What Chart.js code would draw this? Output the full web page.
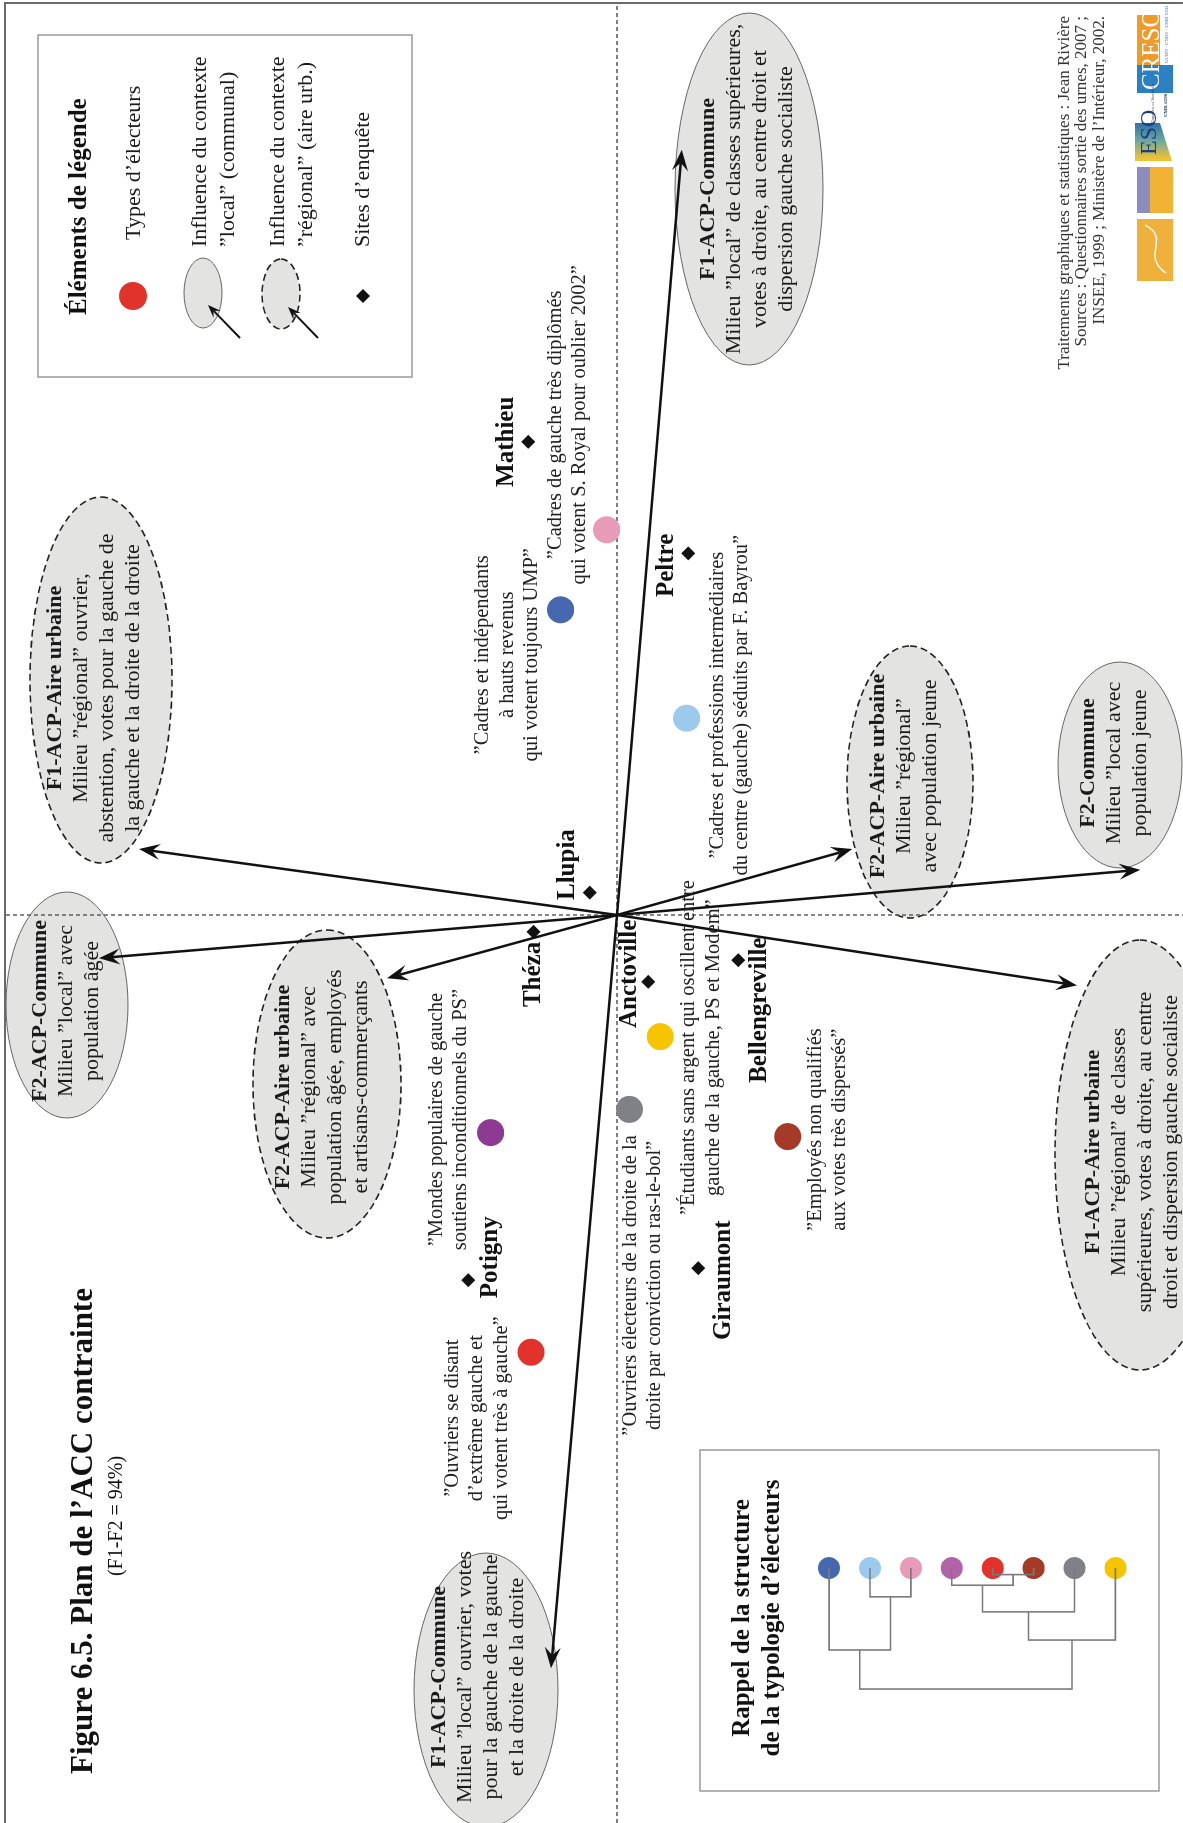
<!DOCTYPE html>
<html>
<head>
<meta charset="utf-8">
<title>Plan de l'ACC contrainte</title>
<script src="https://cdn.jsdelivr.net/npm/chart.js@4.4.0/dist/chart.umd.min.js"></script>
<style>
html, body { margin:0; padding:0; width:1183px; height:1823px; overflow:hidden; background:#fff; }
/* the figure is laid out landscape, then turned a quarter to the left like the printed page */
#rot { position:absolute; left:0; top:0; width:1823px; height:1183px; transform-origin:0 0; transform:translate(0px,1823px) rotate(-90deg); }
#plan { position:absolute; left:0; top:0; }
#dendro { position:absolute; left:31px; top:699px; }
</style>
</head>
<body>
<div id="rot">
  <canvas id="plan" width="1823" height="1183"></canvas>
  <canvas id="dendro" width="343" height="461"></canvas>
</div>
<script>
// ---- types d'électeurs (F1, F2)
var typeNames = ['Cadres et indépendants UMP', 'Cadres et prof. intermédiaires', 'Cadres de gauche très diplômés',
  'Mondes populaires de gauche', 'Ouvriers d’extrême gauche', 'Employés non qualifiés',
  'Ouvriers électeurs de droite', 'Étudiants sans argent'];
var typeF1 = [0.763, 0.492, 0.963, -0.544, -1.093, -0.554, -0.486, -0.304];
var typeF2 = [0.141, -0.174, 0.026, 0.316, 0.215, -0.427, -0.031, -0.108];
var typeColors = ['#4668b0', '#9ccaec', '#e89ab9', '#8d3a92', '#e1322c', '#a63a28', '#7f8186', '#f6c500'];
var typeText = [
  ['”Cadres et indépendants', 'à hauts revenus', 'qui votent toujours UMP”'],
  ['”Cadres et professions intermédiaires', 'du centre (gauche) séduits par F. Bayrou”'],
  ['”Cadres de gauche très diplômés', 'qui votent S. Royal pour oublier 2002”'],
  ['”Mondes populaires de gauche', 'soutiens inconditionnels du PS”'],
  ['”Ouvriers se disant', 'd’extrême gauche et', 'qui votent très à gauche”'],
  ['”Employés non qualifiés', 'aux votes très dispersés”'],
  ['”Ouvriers électeurs de la droite de la', 'droite par conviction ou ras-le-bol”'],
  ['”Étudiants sans argent qui oscillent entre', 'gauche de la gauche, PS et Modem”']
];

// ---- sites d'enquête (F1, F2)
var sites = ['Mathieu', 'Peltre', 'Llupia', 'Théza', 'Anctoville', 'Bellengreville', 'Potigny', 'Giraumont'];
var siteF1 = [1.183, 0.904, 0.056, -0.042, -0.167, -0.113, -0.913, -0.883];
var siteF2 = [0.222, -0.178, 0.068, 0.209, -0.078, -0.303, 0.372, -0.203];

// ---- variables de contexte (extrémités des flèches)
var ctxVars = ['F1-ACP-Commune +', 'F1-ACP-Aire urbaine -', 'F2-ACP-Commune -', 'F2-ACP-Aire urbaine -',
  'F1-ACP-Commune -', 'F2-ACP-Aire urbaine +', 'F2-Commune +', 'F1-ACP-Aire urbaine +'];
var varF1 = [1.913, 0.165, -0.108, -0.158, -1.883, 0.165, 0.113, -0.176];
var varF2 = [-0.162, 1.195, 1.295, 0.575, 0.165, -0.588, -1.308, -1.150];

// ---- dendrogramme (feuilles = types, même ordre)
var leafColors = ['#4668b0', '#9ccaec', '#e89ab9', '#b262a8', '#e1322c', '#a63a28', '#7f8186', '#f6c500'];
var merges = [[4, 5, 0.054], [3, 8, 0.142], [1, 2, 0.238], [9, 6, 0.362], [11, 7, 0.595], [0, 10, 0.677], [13, 12, 1.0]];

// ---- mise en page des étiquettes (pixels)
var typeLabelPos = [[-45, -53], [13, 43], [105, -39], [13, -42], [-66, -54], [7, 40], [-176, 13], [-11, 41]];
var siteLabelPos = [[0, -22, 'center'], [-12, -22, 'center'], [28, -22, 'center'], [-10, 0, 'right'],
  [8, -19, 'center'], [-50, 21, 'center'], [23, 22, 'center'], [-12, 25, 'center']];
var ellipses = [
  {cx: 1.815, cy: -0.33, rx: 176, ry: 74, dash: false, tx: 0, ty: -2, title: 'F1-ACP-Commune',
    lines: ['Milieu ”local” de classes supérieures,', 'votes à droite, au centre droit et', 'dispersion gauche socialiste']},
  {cx: 0.5875, cy: 1.29, rx: 183, ry: 71, dash: true, tx: -8, ty: -7, title: 'F1-ACP-Aire urbaine',
    lines: ['Milieu ”régional” ouvrier,', 'abstention, votes pour la gauche de', 'la gauche et la droite de la droite']},
  {cx: -0.225, cy: 1.375, rx: 113, ry: 61, dash: false, tx: -6, ty: -1, title: 'F2-ACP-Commune',
    lines: ['Milieu ”local” avec', 'population âgée']},
  {cx: -0.4225, cy: 0.725, rx: 154, ry: 74, dash: true, tx: -3, ty: -5, title: 'F2-ACP-Aire urbaine',
    lines: ['Milieu ”régional” avec', 'population âgée, employés', 'et artisans-commerçants']},
  {cx: -1.9375, cy: 0.3275, rx: 137, ry: 72, dash: false, tx: 13, ty: -8, title: 'F1-ACP-Commune',
    lines: ['Milieu ”local” ouvrier, votes', 'pour la gauche de la gauche', 'et la droite de la droite']},
  {cx: 0.3325, cy: -0.7325, rx: 136, ry: 63, dash: true, tx: 6, ty: -6, title: 'F2-ACP-Aire urbaine',
    lines: ['Milieu ”régional”', 'avec population jeune']},
  {cx: 0.375, cy: -1.2575, rx: 103, ry: 62, dash: false, tx: 2, ty: -6, title: 'F2-Commune',
    lines: ['Milieu ”local avec', 'population jeune']},
  {cx: -0.6, cy: -1.3075, rx: 215, ry: 85, dash: true, tx: 3, ty: -8, title: 'F1-ACP-Aire urbaine',
    lines: ['Milieu ”régional” de classes', 'supérieures, votes à droite, au centre', 'droit et dispersion gauche socialiste']}
];

var SERIF = '"Liberation Serif", "Times New Roman", serif';
var ELL_FILL = '#e3e3e1';

function textBlock(ctx, lines, x, y, lh, fonts, align) {
  ctx.textAlign = align || 'center';
  ctx.textBaseline = 'middle';
  var y0 = y - (lines.length - 1) * lh / 2;
  for (var i = 0; i < lines.length; i++) {
    ctx.font = typeof fonts === 'string' ? fonts : fonts[i];
    ctx.fillText(lines[i], x, y0 + i * lh);
  }
}

function arrowHead(ctx, x0, y0, x1, y1, L, W) {
  var a = Math.atan2(y1 - y0, x1 - x0), c = Math.cos(a), s = Math.sin(a);
  var nx = x1 - c * L * 0.62, ny = y1 - s * L * 0.62;
  ctx.beginPath();
  ctx.moveTo(x0, y0);
  ctx.lineTo(nx, ny);
  ctx.stroke();
  ctx.beginPath();
  ctx.moveTo(x1, y1);
  ctx.lineTo(x1 - c * L + s * W, y1 - s * L - c * W);
  ctx.lineTo(nx, ny);
  ctx.lineTo(x1 - c * L - s * W, y1 - s * L + c * W);
  ctx.closePath();
  ctx.fill();
}

function ellipse(ctx, x, y, rx, ry, dash) {
  ctx.save();
  ctx.beginPath();
  ctx.ellipse(x, y, rx, ry, 0, 0, Math.PI * 2);
  ctx.fillStyle = ELL_FILL;
  ctx.fill();
  if (dash) { ctx.setLineDash([7, 4]); ctx.strokeStyle = '#222'; ctx.lineWidth = 1.6; }
  else { ctx.strokeStyle = '#666'; ctx.lineWidth = 1; }
  ctx.stroke();
  ctx.restore();
}

var backLayer = {
  id: 'backLayer',
  beforeDatasetsDraw: function (chart) {
    var ctx = chart.ctx, X = chart.scales.x, Y = chart.scales.y;
    var ox = X.getPixelForValue(0), oy = Y.getPixelForValue(0);
    ctx.save();
    ctx.fillStyle = '#fff';
    ctx.fillRect(0, 0, chart.width, chart.height);
    // page frame
    ctx.strokeStyle = '#6a6a6a'; ctx.lineWidth = 2;
    ctx.beginPath(); ctx.moveTo(0, 5); ctx.lineTo(1820, 5); ctx.lineTo(1820, chart.height); ctx.stroke();
    // ellipses
    ellipses.forEach(function (e) {
      ellipse(ctx, X.getPixelForValue(e.cx), Y.getPixelForValue(e.cy), e.rx, e.ry, e.dash);
    });
    // axes F1 = 0 / F2 = 0
    ctx.setLineDash([4, 3]); ctx.strokeStyle = '#555'; ctx.lineWidth = 1.4;
    ctx.beginPath(); ctx.moveTo(ox, 6); ctx.lineTo(ox, chart.height); ctx.stroke();
    ctx.beginPath(); ctx.moveTo(0, oy); ctx.lineTo(1819, oy); ctx.stroke();
    ctx.setLineDash([]);
    // ellipse texts
    ctx.fillStyle = '#1a1a1a';
    ellipses.forEach(function (e) {
      var lines = [e.title].concat(e.lines);
      var fonts = lines.map(function (t, i) { return i === 0 ? 'bold 22px ' + SERIF : '22px ' + SERIF; });
      textBlock(ctx, lines, X.getPixelForValue(e.cx) + e.tx, Y.getPixelForValue(e.cy) + e.ty, 26, fonts);
    });
    // arrows from origin to variables
    ctx.strokeStyle = '#111'; ctx.fillStyle = '#111'; ctx.lineWidth = 2.5;
    for (var i = 0; i < varF1.length; i++) {
      arrowHead(ctx, ox, oy, X.getPixelForValue(varF1[i]), Y.getPixelForValue(varF2[i]), 21, 8);
    }
    ctx.restore();
  }
};

function drawLegend(ctx) {
  ctx.save();
  ctx.strokeStyle = '#9a9a9a'; ctx.lineWidth = 1.5;
  ctx.strokeRect(1446, 38, 342, 374);
  ctx.fillStyle = '#111';
  ctx.font = 'bold 25px ' + SERIF; ctx.textAlign = 'left'; ctx.textBaseline = 'middle';
  ctx.fillText('Éléments de légende', 1508, 80);
  ctx.beginPath(); ctx.arc(1527, 133, 14, 0, Math.PI * 2); ctx.fillStyle = typeColors[4]; ctx.fill();
  ellipse(ctx, 1530, 203, 35, 19, false);
  ellipse(ctx, 1529, 281, 35, 19, true);
  ctx.strokeStyle = '#111'; ctx.fillStyle = '#111'; ctx.lineWidth = 2;
  arrowHead(ctx, 1485, 240, 1518, 208, 13, 5);
  arrowHead(ctx, 1485, 318, 1516, 288, 13, 5);
  ctx.beginPath(); ctx.moveTo(1520, 363); ctx.lineTo(1527, 356); ctx.lineTo(1534, 363); ctx.lineTo(1527, 370); ctx.closePath(); ctx.fill();
  ctx.fillStyle = '#1a1a1a';
  textBlock(ctx, ['Types d’électeurs'], 1583, 134, 0, '22px ' + SERIF, 'left');
  textBlock(ctx, ['Influence du contexte', '”local” (communal)'], 1576, 214, 28, '22px ' + SERIF, 'left');
  textBlock(ctx, ['Influence du contexte', '”régional” (aire urb.)'], 1576, 292, 28, '22px ' + SERIF, 'left');
  textBlock(ctx, ['Sites d’enquête'], 1576, 363, 0, '22px ' + SERIF, 'left');
  ctx.restore();
}

function drawSources(ctx) {
  ctx.save();
  ctx.fillStyle = '#333';
  textBlock(ctx, ['Traitements graphiques et statistiques : Jean Rivière',
    'Sources : Questionnaires sortie des urnes, 2007 ;',
    'INSEE, 1999 ; Ministère de l’Intérieur, 2002.'], 1807, 1082, 17.5, '17px ' + SERIF, 'right');
  // logos
  ctx.fillStyle = '#f09a2a'; ctx.fillRect(1756, 1137, 52, 23);
  ctx.fillStyle = '#2c7fc3'; ctx.fillRect(1730, 1137, 28, 36);
  ctx.fillStyle = '#fff'; ctx.font = '25px ' + SERIF; ctx.textAlign = 'left'; ctx.textBaseline = 'middle';
  ctx.fillText('CRESO', 1733, 1152);
  ctx.fillStyle = '#2c7fc3'; ctx.font = '5px ' + SERIF; ctx.fillText('UCBN · CNRS · UMR ESO', 1760, 1167);
  var g = ctx.createLinearGradient(1664, 0, 1700, 0);
  g.addColorStop(0, '#f1c232'); g.addColorStop(0.5, '#6fa7a0'); g.addColorStop(1, '#2f6fa8');
  ctx.fillStyle = g;
  ctx.beginPath(); ctx.moveTo(1662, 1135); ctx.lineTo(1700, 1135); ctx.lineTo(1700, 1160); ctx.lineTo(1662, 1172); ctx.closePath(); ctx.fill();
  ctx.fillStyle = '#1d3d7a'; ctx.font = '24px ' + SERIF; ctx.fillText('ESO', 1668, 1150);
  ctx.font = '5px ' + SERIF; ctx.fillText('Espaces et Sociétés', 1700, 1153);
  ctx.font = 'bold 5px ' + SERIF; ctx.fillText('UMR 6590', 1706, 1166);
  ctx.fillStyle = '#8c8cbf'; ctx.fillRect(1610, 1137, 46, 13);
  ctx.fillStyle = '#f2b233';
  ctx.beginPath(); ctx.moveTo(1610, 1150); ctx.lineTo(1656, 1150); ctx.lineTo(1656, 1173); ctx.lineTo(1610, 1173); ctx.closePath(); ctx.fill();
  ctx.fillStyle = '#efb13b'; ctx.fillRect(1542, 1137, 62, 36);
  ctx.strokeStyle = '#fff'; ctx.lineWidth = 1.5;
  ctx.beginPath(); ctx.moveTo(1550, 1166); ctx.bezierCurveTo(1568, 1140, 1584, 1172, 1598, 1145); ctx.stroke();
  ctx.restore();
}

var frontLayer = {
  id: 'frontLayer',
  afterDatasetsDraw: function (chart) {
    var ctx = chart.ctx, X = chart.scales.x, Y = chart.scales.y;
    ctx.save();
    ctx.fillStyle = '#222';
    for (var i = 0; i < typeF1.length; i++) {
      textBlock(ctx, typeText[i], X.getPixelForValue(typeF1[i]) + typeLabelPos[i][0],
        Y.getPixelForValue(typeF2[i]) + typeLabelPos[i][1], 24.5, '20.5px ' + SERIF);
    }
    ctx.fillStyle = '#111';
    for (var j = 0; j < sites.length; j++) {
      var p = siteLabelPos[j];
      textBlock(ctx, [sites[j]], X.getPixelForValue(siteF1[j]) + p[0], Y.getPixelForValue(siteF2[j]) + p[1], 0,
        'bold 25px ' + SERIF, p[2]);
    }
    // title
    ctx.fillStyle = '#111';
    textBlock(ctx, ['Figure 6.5. Plan de l’ACC contrainte'], 292, 84, 0, 'bold 31px ' + SERIF);
    textBlock(ctx, ['(F1-F2 = 94%)'], 307, 117, 0, '20px ' + SERIF);
    drawLegend(ctx);
    drawSources(ctx);
    ctx.restore();
  }
};

new Chart(document.getElementById('plan'), {
  type: 'scatter',
  data: {
    datasets: [
      {
        label: 'Types d’électeurs',
        data: typeF1.map(function (v, i) { return {x: v, y: typeF2[i]}; }),
        pointRadius: 13.5,
        pointBackgroundColor: typeColors,
        pointBorderWidth: 0
      },
      {
        label: 'Sites d’enquête',
        data: siteF1.map(function (v, i) { return {x: v, y: siteF2[i]}; }),
        pointStyle: 'rectRot',
        pointRadius: 7,
        pointBackgroundColor: '#111',
        pointBorderWidth: 0
      }
    ]
  },
  options: {
    responsive: false,
    animation: false,
    devicePixelRatio: 1,
    events: [],
    layout: {padding: 0, autoPadding: false},
    plugins: {legend: {display: false}, tooltip: {enabled: false}},
    scales: {
      x: {type: 'linear', min: -2.27, max: 2.2875, display: false},
      y: {type: 'linear', min: -1.415, max: 1.5425, display: false}
    }
  },
  plugins: [backLayer, frontLayer]
});

// ---- dendrogramme
var nodePos = [0, 1, 2, 3, 4, 5, 6, 7], nodeH = [0, 0, 0, 0, 0, 0, 0, 0];
var treeSets = [];
merges.forEach(function (m) {
  var a = m[0], b = m[1], h = m[2];
  treeSets.push({
    type: 'line',
    data: [{x: nodeH[a], y: nodePos[a]}, {x: h, y: nodePos[a]}, {x: h, y: nodePos[b]}, {x: nodeH[b], y: nodePos[b]}],
    borderColor: '#7a7a7a', borderWidth: 1.6, pointRadius: 0, fill: false, tension: 0
  });
  nodePos.push((nodePos[a] + nodePos[b]) / 2);
  nodeH.push(h);
});

var dendroFrame = {
  id: 'dendroFrame',
  beforeDatasetsDraw: function (chart) {
    var ctx = chart.ctx;
    ctx.save();
    ctx.fillStyle = '#fff'; ctx.fillRect(0, 0, chart.width, chart.height);
    ctx.strokeStyle = '#9a9a9a'; ctx.lineWidth = 1.5;
    ctx.strokeRect(1, 1, chart.width - 2, chart.height - 2);
    ctx.fillStyle = '#111';
    textBlock(ctx, ['Rappel de la structure', 'de la typologie d’électeurs'], 174, 59, 30, 'bold 25px ' + SERIF);
    ctx.restore();
  }
};

new Chart(document.getElementById('dendro'), {
  type: 'scatter',
  data: {
    datasets: treeSets.concat([{
      label: 'Typologie',
      data: leafColors.map(function (c, i) { return {x: 0, y: i}; }),
      pointRadius: 11,
      pointBackgroundColor: leafColors,
      pointBorderWidth: 0
    }])
  },
  options: {
    responsive: false,
    animation: false,
    devicePixelRatio: 1,
    events: [],
    layout: {padding: 0, autoPadding: false},
    plugins: {legend: {display: false}, tooltip: {enabled: false}},
    scales: {
      x: {type: 'linear', min: -0.984, max: 1.851, reverse: true, display: false},
      y: {type: 'linear', min: -3.18, max: 8.09, reverse: true, display: false}
    }
  },
  plugins: [dendroFrame]
});
</script>
</body>
</html>
